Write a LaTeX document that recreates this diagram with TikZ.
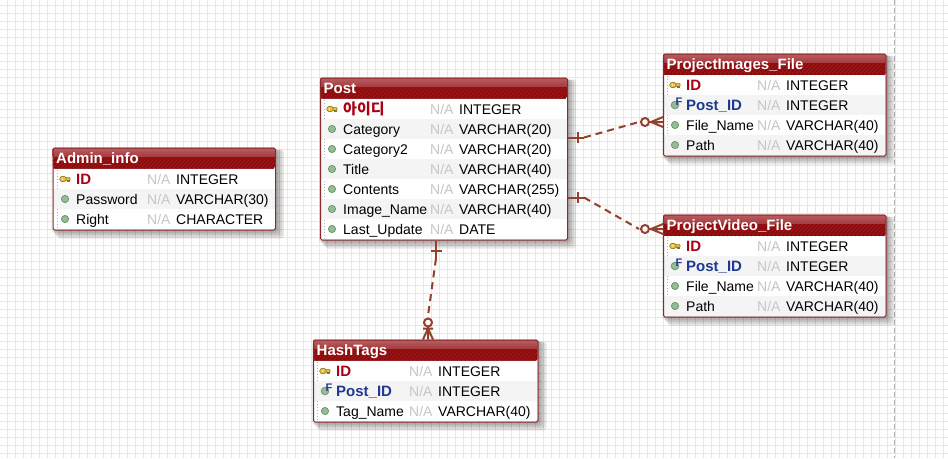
\documentclass[tikz,border=0pt]{standalone}
\usepackage{fontspec}
\setmainfont{Liberation Sans}
\newfontfamily\krfont{Noto Sans CJK KR}
\usetikzlibrary{calc}
\definecolor{gridc}{HTML}{F6E0E0}
\definecolor{framec}{HTML}{8A2A2A}
\definecolor{hdtop}{HTML}{B85E62}
\definecolor{hdmid}{HTML}{A63C40}
\definecolor{hddark}{HTML}{8C0A0C}
\definecolor{hdstripe}{HTML}{9C1A1C}
\definecolor{rowalt}{HTML}{F4F4F4}
\definecolor{pkc}{HTML}{A80014}
\definecolor{fkc}{HTML}{1F3A90}
\definecolor{nac}{HTML}{C6C6C6}
\definecolor{linkc}{HTML}{93402E}
\definecolor{dotc}{HTML}{96BC96}
\definecolor{dotd}{HTML}{6E946E}
\definecolor{keyc}{HTML}{E8C040}
\definecolor{keyd}{HTML}{8F7318}
\tikzset{
  gridline/.style={fill=gridc},
  tablebox/.style={draw=framec,line width=1pt,rounded corners=1.5pt,anchor=north west,inner sep=0pt},
  coltext/.style={anchor=base west,inner sep=0pt,font=\fontsize{14}{14}\selectfont,text=black},
  pktext/.style={coltext,font=\fontsize{15}{14}\selectfont\bfseries,text=pkc},
  fktext/.style={coltext,font=\fontsize{15}{14}\selectfont\bfseries,text=fkc},
  natext/.style={coltext,text=nac},
  titletext/.style={anchor=base west,inner sep=0pt,font=\fontsize{15}{14}\selectfont\bfseries,text=white},
  linkline/.style={draw=linkc,line width=2pt},
  linkdash/.style={linkline,dash pattern=on 7pt off 5pt},
  dotcol/.pic={\fill[dotc,draw=dotd,line width=.8pt] (0,0) circle (3.6pt);},
  keycol/.pic={
    \draw[keyd,line width=.6pt,fill=keyc,rounded corners=.5pt] (2,-1.4) rectangle (7,1.4);
    \fill[keyc,draw=keyd,line width=.6pt] (0,0) ellipse (3.4pt and 2.8pt);
    \fill[white] (-.6,0) circle (.8pt);
    \fill[keyd] (4,1.2) rectangle (7,2.6);},
  fkcol/.pic={
    \fill[dotc,draw=dotd,line width=.8pt] (0,0) circle (3.8pt);
    \node[anchor=center,inner sep=0pt,text=fkc,font=\fontsize{11}{8}\selectfont\bfseries] at (4,-3.5) {F};},
}
% title bar and frame: id, x, y, width, height, header bottom, title
\newcommand{\ertable}[7]{%
  \foreach \k in {9,7,5,3} {\fill[black,opacity=.09,rounded corners=3pt] (#2+\k-4,#3+2) rectangle (#2+#4+\k,#3+#5+\k);}
  \fill[white,rounded corners=1.5pt] (#2,#3) rectangle (#2+#4,#3+#5);
  \begin{scope}
    \clip[rounded corners=1.5pt] (#2,#3) rectangle (#2+#4,#6);
    \fill[hddark] (#2,#3) rectangle (#2+#4,#6);
    \foreach \s in {0,4,...,252} {\draw[hdstripe,line width=1pt] (#2+\s-12,#6) -- (#2+\s,#6-12);}
    \shade[top color=hdtop,bottom color=hdmid] (#2,#3) rectangle (#2+#4,#3+9);
    \fill[hddark] (#2,#6-.6) rectangle (#2+#4,#6);
  \end{scope}
  \draw[gray!60,dotted,line width=1pt] (#2+4.5,#6+1) -- (#2+4.5,#3+#5-1);
  \node[titletext] (#1title) at (#2+3.5,#3+16) {#7};
}
\newcommand{\zebra}[4]{\fill[rowalt] (#1+.5,#3-10) rectangle (#1+#2-.5,#3+10);}
% row: icon, icon x, text style, name x, na x, centre y, name, type
\newcommand{\errow}[9]{%
  \pic at (#2,#6) {#1};
  \node[#3] (n\pgfkeysvalueof{/tikz/rowid}a) at (#4,#6+5) {#7};
  \node[natext] (n\pgfkeysvalueof{/tikz/rowid}b) at (#5-1,#6+5) {N/A};
  \node[coltext] (n\pgfkeysvalueof{/tikz/rowid}c) at (#5+28,#6+5) {#8};
}
\pgfkeys{/tikz/rowid/.initial=x}
\begin{document}
\begin{tikzpicture}[x=1pt,y=-1pt]
\useasboundingbox (0,0) rectangle (948,458);
\fill[white] (0,0) rectangle (948,458);
\foreach \x in {7,15,...,947} {\fill[gridline] (\x,0) rectangle (\x+1.2,458);}
\foreach \y in {5,13,...,458} {\fill[gridline] (0,\y) rectangle (948,\y+1.2);}
\draw[draw=gray!60,line width=1pt,dash pattern=on 5pt off 3pt] (894.5,0) -- (894.5,458);

% Admin_info
\ertable{admin}{52.5}{147.5}{222.5}{82}{168.5}{Admin\_info}
\zebra{52.5}{222.5}{199}{}
\node[tablebox,minimum width=222.5pt,minimum height=82pt] (admin) at (52.5,147.5) {};
\tikzset{rowid=a1}\errow{keycol}{63}{pktext}{76}{148}{179}{ID}{INTEGER}{}
\tikzset{rowid=a2}\errow{dotcol}{65}{coltext}{76}{148}{199}{Password}{VARCHAR(30)}{}
\tikzset{rowid=a3}\errow{dotcol}{65}{coltext}{76}{148}{219}{Right}{CHARACTER}{}

% Post
\ertable{post}{320}{77.5}{247}{162}{98.5}{Post}
\foreach \yy in {129,169,209} {\zebra{320}{247}{\yy}{}}
\node[tablebox,minimum width=247pt,minimum height=162pt] (post) at (320,77.5) {};
\tikzset{rowid=p1}\errow{keycol}{330}{pktext}{343}{431}{109}{\krfont 아이디}{INTEGER}{}
\tikzset{rowid=p2}\errow{dotcol}{332}{coltext}{343}{431}{129}{Category}{VARCHAR(20)}{}
\tikzset{rowid=p3}\errow{dotcol}{332}{coltext}{343}{431}{149}{Category2}{VARCHAR(20)}{}
\tikzset{rowid=p4}\errow{dotcol}{332}{coltext}{343}{431}{169}{Title}{VARCHAR(40)}{}
\tikzset{rowid=p5}\errow{dotcol}{332}{coltext}{343}{431}{189}{Contents}{VARCHAR(255)}{}
\tikzset{rowid=p6}\errow{dotcol}{332}{coltext}{343}{431}{209}{Image\_Name}{VARCHAR(40)}{}
\tikzset{rowid=p7}\errow{dotcol}{332}{coltext}{343}{431}{229}{Last\_Update}{DATE}{}

% ProjectImages_File
\ertable{img}{663}{53.5}{222.5}{102}{75}{ProjectImages\_File}
\foreach \yy in {105,145} {\zebra{663}{222.5}{\yy}{}}
\node[tablebox,minimum width=222.5pt,minimum height=102pt] (img) at (663,53.5) {};
\tikzset{rowid=i1}\errow{keycol}{673}{pktext}{686}{758}{85}{ID}{INTEGER}{}
\tikzset{rowid=i2}\errow{fkcol}{675}{fktext}{686}{758}{105}{Post\_ID}{INTEGER}{}
\tikzset{rowid=i3}\errow{dotcol}{675}{coltext}{686}{758}{125}{File\_Name}{VARCHAR(40)}{}
\tikzset{rowid=i4}\errow{dotcol}{675}{coltext}{686}{758}{145}{Path}{VARCHAR(40)}{}

% ProjectVideo_File
\ertable{vid}{663}{214.5}{222.5}{102}{236}{ProjectVideo\_File}
\foreach \yy in {266,306} {\zebra{663}{222.5}{\yy}{}}
\node[tablebox,minimum width=222.5pt,minimum height=102pt] (vid) at (663,214.5) {};
\tikzset{rowid=v1}\errow{keycol}{673}{pktext}{686}{758}{246}{ID}{INTEGER}{}
\tikzset{rowid=v2}\errow{fkcol}{675}{fktext}{686}{758}{266}{Post\_ID}{INTEGER}{}
\tikzset{rowid=v3}\errow{dotcol}{675}{coltext}{686}{758}{286}{File\_Name}{VARCHAR(40)}{}
\tikzset{rowid=v4}\errow{dotcol}{675}{coltext}{686}{758}{306}{Path}{VARCHAR(40)}{}

% HashTags
\ertable{tags}{313}{339.5}{224.5}{82}{360.5}{HashTags}
\zebra{313}{224.5}{391}{}
\node[tablebox,minimum width=224.5pt,minimum height=82pt] (tags) at (313,339.5) {};
\tikzset{rowid=h1}\errow{keycol}{323}{pktext}{336}{410}{371}{ID}{INTEGER}{}
\tikzset{rowid=h2}\errow{fkcol}{325}{fktext}{336}{410}{391}{Post\_ID}{INTEGER}{}
\tikzset{rowid=h3}\errow{dotcol}{325}{coltext}{336}{410}{411}{Tag\_Name}{VARCHAR(40)}{}

% anchors on the table borders
\coordinate (p1s) at ($(post.north east)+(0,60)$);
\coordinate (p2s) at ($(post.north east)+(0,120)$);
\coordinate (p3s) at ($(post.south west)+(116,0)$);
\coordinate (i1e) at ($(img.north west)+(0,68.5)$);
\coordinate (v1e) at ($(vid.north west)+(0,14.5)$);
\coordinate (t1e) at ($(tags.north west)+(115,0)$);

% Post -> ProjectImages_File
\draw[linkline] (p1s) -- ++(16,0) coordinate (a1);
\draw[linkline] ($(p1s)+(10,-5.5)$) -- ++(0,11);
\draw[linkdash] (a1) -- ($(i1e)+(-24,0)$);
\draw[linkline] ($(i1e)+(-18,0)$) circle (4pt);
\draw[linkline] ($(i1e)+(-13,0)$) -- (i1e) ($(i1e)+(-12,0)$) -- ++(12,-5) ($(i1e)+(-12,0)$) -- ++(12,5);

% Post -> ProjectVideo_File
\draw[linkline] (p2s) -- ++(16,0) coordinate (a2);
\draw[linkline] ($(p2s)+(10,-5.5)$) -- ++(0,11);
\draw[linkdash] (a2) -- ($(v1e)+(-24,0)$);
\draw[linkline] ($(v1e)+(-18,0)$) circle (4pt);
\draw[linkline] ($(v1e)+(-13,0)$) -- (v1e) ($(v1e)+(-12,0)$) -- ++(12,-5) ($(v1e)+(-12,0)$) -- ++(12,5);

% Post -> HashTags
\draw[linkline] (p3s) -- ++(0,18) coordinate (a3);
\draw[linkline] ($(p3s)+(-5.5,10)$) -- ++(11,0);
\draw[linkdash] (a3) -- ($(t1e)+(0,-24)$);
\draw[linkline] ($(t1e)+(0,-17)$) circle (4pt);
\draw[linkline] ($(t1e)+(0,-12.5)$) -- (t1e) ($(t1e)+(0,-11)$) -- ++(-5,11) ($(t1e)+(0,-11)$) -- ++(5,11) ($(t1e)+(-5,-11)$) -- ++(10,0);
\end{tikzpicture}
\end{document}
